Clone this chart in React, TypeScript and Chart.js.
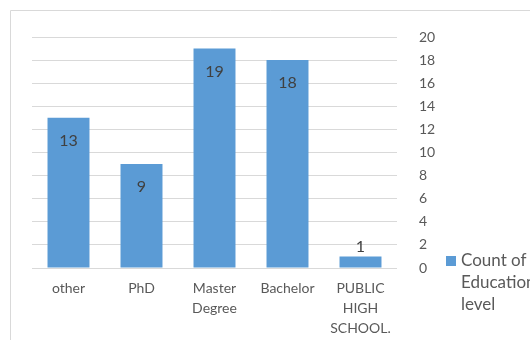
import React, { useEffect, useRef } from "react";
import { Chart, registerables } from "chart.js";

Chart.register(...registerables);

const categories = ["other", "PhD", "Master Degree", "Bachelor", "PUBLIC HIGH SCHOOL."];
const counts = [13, 9, 19, 18, 1];
const seriesLabel = "Count of Education level";
const yMin = 0;
const yMax = 20;
const yStep = 2;

const FONT = "Lato, 'Open Sans', sans-serif";
const BAR = "#5B9BD5";
const TEXT = "#595959";
const GRID = "#d9d9d9";

const framePlugin = {
  id: "frame",
  beforeDraw(chart: any) {
    const ctx = chart.ctx;
    ctx.save();
    ctx.strokeStyle = GRID;
    ctx.lineWidth = 1;
    ctx.beginPath();
    ctx.moveTo(10.5, chart.height);
    ctx.lineTo(10.5, 10.5);
    ctx.lineTo(chart.width, 10.5);
    ctx.stroke();
    ctx.restore();
  },
};

const labelPlugin = {
  id: "barLabels",
  afterDatasetsDraw(chart: any) {
    const ctx = chart.ctx;
    const meta = chart.getDatasetMeta(0);
    ctx.save();
    ctx.fillStyle = "#404040";
    ctx.font = `16px ${FONT}`;
    ctx.textAlign = "center";
    ctx.textBaseline = "middle";
    meta.data.forEach((bar: any, i: number) => {
      const h = bar.base - bar.y;
      const y = h > 30 ? bar.y + 23 : bar.y - 10;
      ctx.fillText(String(counts[i]), bar.x, y);
    });
    ctx.restore();
  },
};

const legendPlugin = {
  id: "sideLegend",
  afterDraw(chart: any) {
    const ctx = chart.ctx;
    const area = chart.chartArea;
    const sx = area.right + 49;
    const sy = area.bottom - 12;
    ctx.save();
    ctx.fillStyle = BAR;
    ctx.fillRect(sx, sy, 10, 10);
    ctx.font = `17px ${FONT}`;
    ctx.fillStyle = TEXT;
    ctx.textAlign = "left";
    ctx.textBaseline = "middle";
    const words = seriesLabel.split(" ");
    const lines: string[] = [];
    let cur = "";
    for (const w of words) {
      const t = cur ? cur + " " + w : w;
      if (cur && ctx.measureText(t).width > 72) {
        lines.push(cur);
        cur = w;
      } else cur = t;
    }
    if (cur) lines.push(cur);
    lines.forEach((l, i) => ctx.fillText(l, sx + 15, sy + 5 + i * 22));
    ctx.restore();
  },
};

export default function App() {
  const ref = useRef<HTMLCanvasElement>(null);
  useEffect(() => {
    if (!ref.current) return;
    const chart = new Chart(ref.current, {
      type: "bar",
      data: {
        labels: categories,
        datasets: [
          {
            label: seriesLabel,
            data: counts,
            backgroundColor: BAR,
            categoryPercentage: 1,
            barPercentage: 0.575,
          },
        ],
      },
      options: {
        responsive: true,
        maintainAspectRatio: false,
        animation: false,
        layout: { padding: { left: 32, top: 37, right: 0, bottom: 0 } },
        plugins: { legend: { display: false }, tooltip: { enabled: false } },
        scales: {
          x: {
            grid: { display: false },
            border: { display: false },
            ticks: {
              color: TEXT,
              font: { family: FONT, size: 14, lineHeight: 1.4 },
              padding: 3,
              maxRotation: 0,
              autoSkip: false,
              callback: (_v: any, i: number) => categories[i].split(" "),
            },
            afterFit: (s: any) => {
              s.height = 72;
            },
          },
          y: {
            position: "right",
            min: yMin,
            max: yMax,
            grid: { color: GRID, drawTicks: false },
            border: { display: false },
            ticks: {
              stepSize: yStep,
              color: TEXT,
              padding: 22,
              font: { family: FONT, size: 14 },
            },
            afterFit: (s: any) => {
              s.width = 133;
            },
          },
        },
      },
      plugins: [framePlugin, labelPlugin, legendPlugin],
    });
    return () => chart.destroy();
  }, []);
  return (
    <div style={{ position: "fixed", left: 0, top: 0, width: 530, height: 340, background: "#fff" }}>
      <canvas ref={ref} />
    </div>
  );
}
